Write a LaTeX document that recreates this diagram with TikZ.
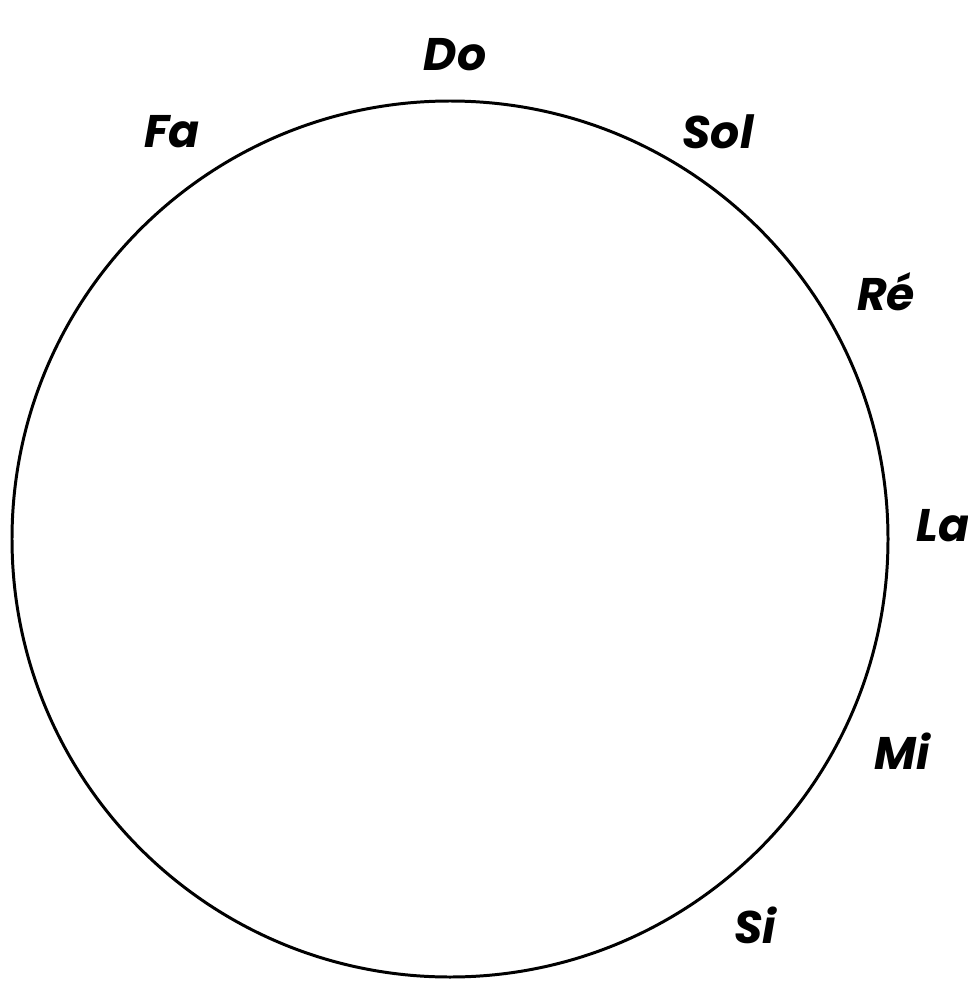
\documentclass[tikz,border=0pt]{standalone}
\usepackage{fontspec}
\setmainfont{Poppins}
\usetikzlibrary{positioning}
\tikzset{note/.style={font=\fontsize{26}{30}\selectfont\bfseries\itshape}}

\begin{document}
\begin{tikzpicture}[x=0.02cm,y=-0.02cm]
			\useasboundingbox (0,0) rectangle (967,983);
			\coordinate (O) at (450,539);
			\draw[line width=1.7pt] (O) circle (438);
			\node[note] (do) at (455,55) {Do};
			\node[note] (sol) at (718,132) {Sol};
			\node[note] (re) at (886,292) {Ré};
			\node[note] (la) at (943,526) {La};
			\node[note] (mi) at (902,751) {Mi};
			\node[note] (si) at (755,925) {Si};
			\node[note] (fa) at (172,132) {Fa};
\end{tikzpicture}
\end{document}
